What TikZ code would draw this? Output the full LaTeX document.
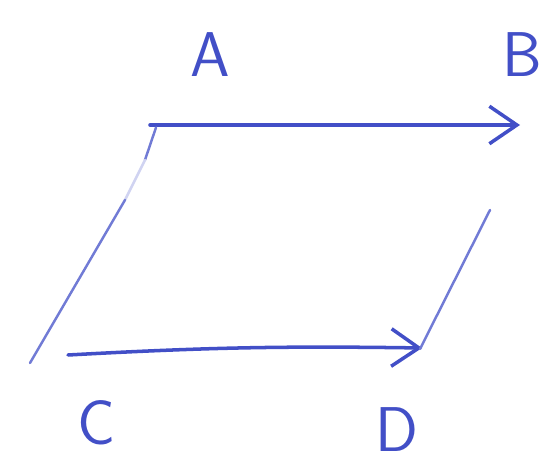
\documentclass[tikz,border=0pt]{standalone}
\usepackage{tikz}
\usetikzlibrary{arrows.meta, positioning}
\definecolor{myink}{rgb}{0.26, 0.31, 0.78}
\tikzstyle{vec} = [line width=2pt, myink, line cap=round, -{Straight Barb[length=0.55cm, width=0.75cm, line width=2pt]}]
\tikzstyle{side} = [line width=1.4pt, myink!75, line cap=round]

\begin{document}
\begin{tikzpicture}[
    letter/.style={inner sep=0pt, text=myink, font=\sffamily\fontsize{36}{40}\selectfont}]
    \useasboundingbox (0,0) rectangle (10.94,-9.42);
    \node[letter] (A) at (4.2,-1.1)   {A};
    \node[letter] (B) at (10.45,-1.1) {B};
    \node[letter] (C) at (1.94,-8.45) {C};
    \node[letter] (D) at (7.94,-8.6)  {D};
    \coordinate (a1) at (3.0,-2.5);
    \coordinate (b1) at (10.4,-2.5);
    \coordinate (c1) at (1.36,-7.1);
    \coordinate (d1) at (8.44,-6.96);
    \coordinate (a2) at (3.12,-2.55);
    \coordinate (l1) at (2.9,-3.2);
    \coordinate (l2) at (2.5,-4.0);
    \coordinate (l3) at (0.6,-7.26);
    \coordinate (r1) at (9.8,-4.2);
    \coordinate (r2) at (8.4,-6.98);
    \draw[vec] (a1) -- (b1);
    \draw[vec] (c1) to[bend left=2] (d1);
    \draw[side] (a2) -- (l1);
    \draw[side, myink!25] (l1) -- (l2);
    \draw[side] (l2) -- (l3);
    \draw[side] (r1) -- (r2);
\end{tikzpicture}
\end{document}
